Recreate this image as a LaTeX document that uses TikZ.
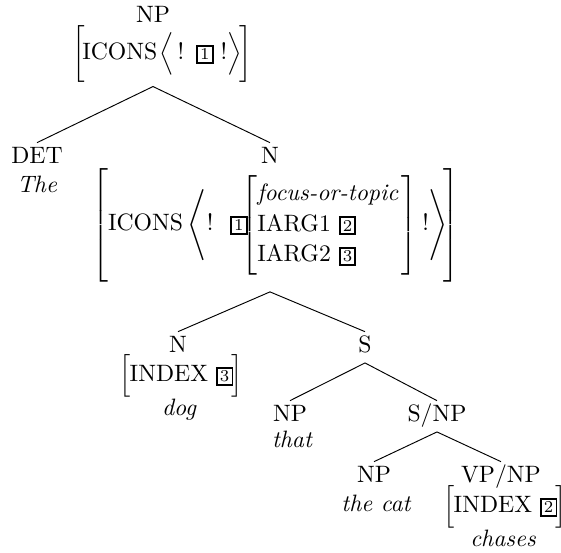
\documentclass[tikz,border=0pt]{standalone}
\usepackage{amsmath}
\usepackage{tikz}
\usetikzlibrary{positioning}
\tikzset{>=latex}

\begin{document}
\begin{tikzpicture}[
        x=0.422pt, y=-0.422pt,
        cat/.style={anchor=base, inner sep=2pt, text height=6.8pt, text depth=2pt},
        word/.style={anchor=base, inner sep=2pt, font=\itshape},
        avm/.style={anchor=base, inner sep=1.5pt},
        branch/.style={line width=0.4pt}
    ]

    \useasboundingbox (0,0) rectangle (561,553);

    %=== Boxed tag for shared values ===%
    % #1 = tag number
    \newcommand{\tagbox}[1]{{\setlength{\fboxsep}{0.9pt}\setlength{\fboxrule}{0.8pt}\fbox{\scriptsize #1}}}

    %=== Top NP ===%
    \node[cat] (np) at (153,23) {NP};
    \node[avm] (np-avm) at (162,60)
        {$\biggl[\hspace{-1pt}\text{ICONS}\hspace{0.8pt}\Bigl\langle\,!\hspace{5pt}\tagbox{1}\hspace{3pt}!\Bigr\rangle\hspace{-1pt}\biggr]$};

    %=== Determiner ===%
    \node[cat] (det) at (37,164) {DET};
    \node[word] (the) at (37,193) {The};

    %=== Noun with the relative clause ===%
    \node[cat] (n1) at (270,164) {N};
    \node[avm] (n1-avm) at (276,231)
        {$\left[\rule[-24pt]{0pt}{29pt}\text{ICONS}\hspace{2pt}\Biggl\langle!\hspace{7pt}\tagbox{1}\hspace{-4.2pt}
        \left[\rule[-20.5pt]{0pt}{25.5pt}\renewcommand{\arraystretch}{1.08}\begin{array}{@{}l@{\hspace{1.5pt}}}
            \textit{focus-or-topic}\\
            \text{IARG1 }\tagbox{2}\\
            \text{IARG2 }\tagbox{3}
        \end{array}\right]\hspace{2pt}!\Biggr\rangle\!\right]$};

    %=== Head noun ===%
    \node[cat] (n2) at (178,353) {N};
    \node[avm] (n2-avm) at (181,382) {$\Bigl[\hspace{-0.5pt}\text{INDEX }\tagbox{3}\hspace{-1pt}\Bigr]$};
    \node[word] (dog) at (179,416) {dog};

    %=== Relative clause ===%
    \node[cat] (s) at (365,353) {S};
    \node[cat] (np2) at (290,422) {NP};
    \node[word] (that) at (292,448) {that};
    \node[cat] (snp) at (437,422) {S/NP};
    \node[cat] (np3) at (374,483) {NP};
    \node[word] (thecat) at (376,512) {the cat};
    \node[cat] (vpnp) at (501,483) {VP/NP};
    \node[avm] (vp-avm) at (505,513) {$\Bigl[\hspace{-0.5pt}\text{INDEX }\tagbox{2}\hspace{-1pt}\Bigr]$};
    \node[word] (chases) at (503,547) {chases};

    %=== Branches ===%
    \draw[branch] (det.north) -- (np-avm.south -| np) -- (n1.north);
    \draw[branch] (n2.north) -- (n1-avm.south -| n1) -- (s.north);
    \draw[branch] (np2.north) -- (s.south) -- (snp.north);
    \draw[branch] (np3.north) -- (snp.south) -- (vpnp.north);

\end{tikzpicture}
\end{document}
